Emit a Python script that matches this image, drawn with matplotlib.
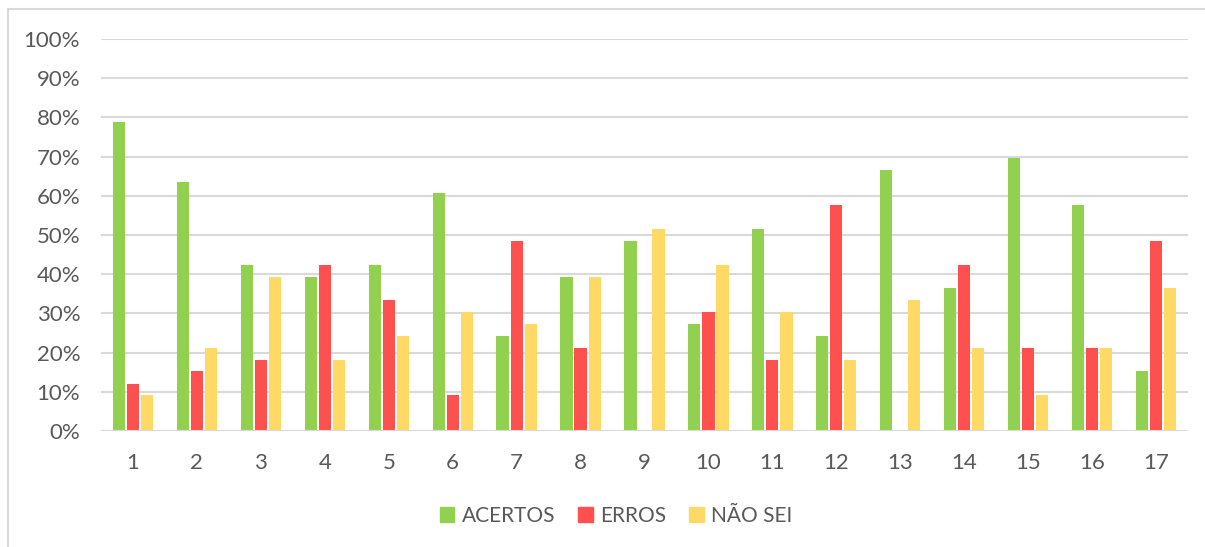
import matplotlib.pyplot as plt
import matplotlib.patches as mpatches
import numpy as np

plt.rcParams['font.family'] = ['Lato', 'DejaVu Sans']

# dados (percentual por questão)
questoes = [str(i) for i in range(1, 18)]
acertos = [78.8, 63.6, 42.4, 39.4, 42.4, 60.6, 24.2, 39.4, 48.5, 27.3, 51.5, 24.2, 66.7, 36.4, 69.7, 57.6, 15.2]
erros = [12.1, 15.2, 18.2, 42.4, 33.3, 9.1, 48.5, 21.2, 0.0, 30.3, 18.2, 57.6, 0.0, 42.4, 21.2, 21.2, 48.5]
nao_sei = [9.1, 21.2, 39.4, 18.2, 24.2, 30.3, 27.3, 39.4, 51.5, 42.4, 30.3, 18.2, 33.3, 21.2, 9.1, 21.2, 36.4]

verde = '#92D050'
vermelho = '#FF5050'
amarelo = '#FFD966'
cinza = '#595959'

fig = plt.figure(figsize=(12.05, 5.47), dpi=100)
ax = fig.add_axes([101/1205, 1 - 431/547, (1188-101)/1205, (431-39)/547])

x = np.arange(len(questoes))
w = 0.19
off = 0.22
ax.bar(x - off, acertos, w, color=verde, label='ACERTOS', zorder=3)
ax.bar(x, erros, w, color=vermelho, label='ERROS', zorder=3)
ax.bar(x + off, nao_sei, w, color=amarelo, label='NÃO SEI', zorder=3)

ax.set_xlim(-0.5, len(questoes) - 0.5)
ax.set_ylim(0, 100)
ax.set_yticks(range(0, 101, 10))
ax.set_yticklabels([f'{v}%' for v in range(0, 101, 10)])
ax.set_xticks(x)
ax.set_xticklabels(questoes)
ax.grid(axis='y', color='#D9D9D9', linewidth=1.5, zorder=0)
for s in ax.spines.values():
    s.set_visible(False)
ax.tick_params(length=0, labelsize=16, colors=cinza)
ax.tick_params(axis='x', pad=16)
ax.tick_params(axis='y', pad=15)
ax.axhline(0, color='#D9D9D9', linewidth=1.5, zorder=4)

handles = [mpatches.Patch(color=verde, label='ACERTOS'),
           mpatches.Patch(color=vermelho, label='ERROS'),
           mpatches.Patch(color=amarelo, label='NÃO SEI')]
leg = fig.legend(handles=handles, loc='center', bbox_to_anchor=(616/1205, 1 - 516/547),
                 ncol=3, frameon=False, fontsize=15, handlelength=0.7, handleheight=0.7,
                 handletextpad=0.35, columnspacing=1.1)
for t in leg.get_texts():
    t.set_color(cinza)

# moldura do gráfico
fig.patches.append(mpatches.Rectangle((8/1205, -0.1), 1.2, 1 - 9/547 + 0.1,
                                      transform=fig.transFigure, fill=False,
                                      edgecolor='#D9D9D9', linewidth=1.5))

fig.savefig('out.png', dpi=100)
